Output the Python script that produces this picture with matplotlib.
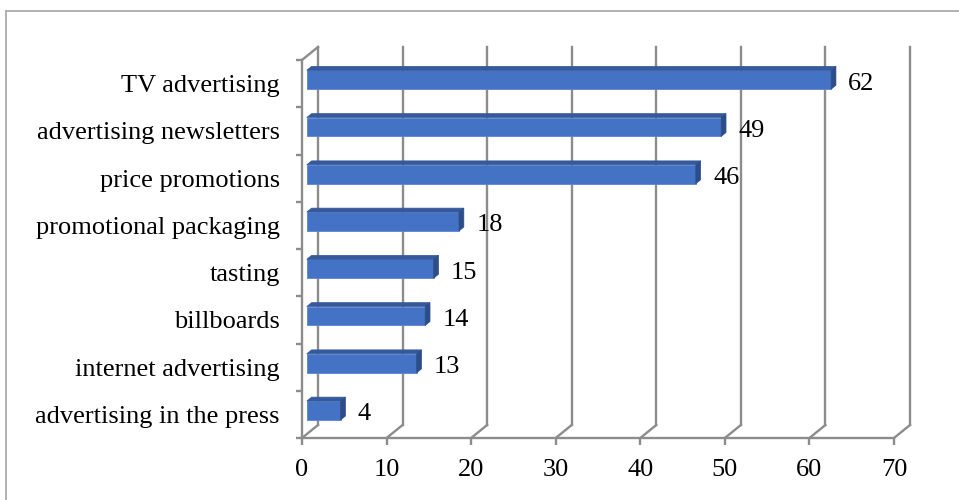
import numpy as np
import matplotlib
matplotlib.use("Agg")
from matplotlib import pyplot as plt
from matplotlib.patches import Polygon, Rectangle
from matplotlib.lines import Line2D

# Data (bottom to top, as drawn)
categories = ["advertising in the press", "internet advertising", "billboards",
              "tasting", "promotional packaging", "price promotions",
              "advertising newsletters", "TV advertising"]
values = [4, 13, 14, 15, 18, 46, 49, 62]
x_ticks = [0, 10, 20, 30, 40, 50, 60, 70]

plt.rcParams['font.family'] = ['Liberation Serif', 'DejaVu Serif']

W, H = 959, 500
fig = plt.figure(figsize=(W / 100, H / 100), dpi=100)
ax = fig.add_axes([302 / W, (H - 438) / H, (894 - 302) / W, (438 - 60) / H])
xmax = x_ticks[-1]
ncat = len(categories)
ax.set_xlim(0, xmax)
ax.set_ylim(0, ncat)

# depth offset in data units (back wall is 16px right, 13px up)
px_x = ax.get_window_extent().width / xmax
px_y = ax.get_window_extent().height / ncat
DX, DY = 16 / px_x, 13 / px_y

grid_col = "#8c8c8c"
glw = 1.7

for s in ax.spines.values():
    s.set_visible(False)

# back wall gridlines + floor diagonals
for v in x_ticks:
    ax.plot([v + DX, v + DX], [DY, ncat + DY], color=grid_col, lw=glw, zorder=1, clip_on=False)
    ax.plot([v, v + DX], [0, DY], color=grid_col, lw=glw, zorder=1, clip_on=False)
# floor front edge
ax.plot([0, xmax], [0, 0], color=grid_col, lw=glw, zorder=1, clip_on=False)
# left wall
ax.plot([0, 0], [0, ncat], color=grid_col, lw=glw, zorder=1, clip_on=False)
ax.plot([0, DX], [ncat, ncat + DY], color=grid_col, lw=glw, zorder=1, clip_on=False)

# bars with a pseudo 3D look
d0, d1 = 0.3, 0.6
bh = 0.4
front = "#4472c4"
top = "#35599b"
side = "#2c4d88"
for i, v in enumerate(values):
    x0 = d0 * DX
    y0 = i + 0.5 - bh / 2 + d0 * DY
    ddx = (d1 - d0) * DX
    ddy = (d1 - d0) * DY
    ax.add_patch(Rectangle((x0, y0), v, bh, facecolor=front, edgecolor="#5a86d0",
                           lw=0.6, zorder=3, clip_on=False))
    ax.add_patch(Polygon([(x0, y0 + bh), (x0 + v, y0 + bh), (x0 + v + ddx, y0 + bh + ddy),
                          (x0 + ddx, y0 + bh + ddy)], closed=True, facecolor=top,
                         edgecolor=top, lw=0.5, zorder=3, clip_on=False))
    ax.add_patch(Polygon([(x0 + v, y0), (x0 + v + ddx, y0 + ddy), (x0 + v + ddx, y0 + bh + ddy),
                          (x0 + v, y0 + bh)], closed=True, facecolor=side,
                         edgecolor=side, lw=0.5, zorder=3, clip_on=False))
    ax.text(v + 22 / px_x, i + 0.5, str(v), fontsize=19, va="center", ha="left", zorder=4)

# ticks
ax.set_xticks(x_ticks)
ax.set_xticklabels([str(t) for t in x_ticks], fontsize=19)
ax.tick_params(axis="x", length=5, width=glw, color=grid_col, pad=10)
ax.set_yticks(np.arange(ncat + 1))
ax.set_yticklabels([])
ax.set_yticks(np.arange(ncat) + 0.5, minor=True)
ax.set_yticklabels(categories, minor=True, fontsize=19)
ax.tick_params(axis="y", which="major", length=4, width=glw, color=grid_col)
ax.tick_params(axis="y", which="minor", length=0, pad=16)

# outer frame
fig.add_artist(Line2D([6 / W, 6 / W], [0, 1 - 11 / H], color="#a6a6a6", lw=1.2))
fig.add_artist(Line2D([6 / W, 1], [1 - 11 / H, 1 - 11 / H], color="#a6a6a6", lw=1.2))

fig.savefig("out.png", dpi=100)
